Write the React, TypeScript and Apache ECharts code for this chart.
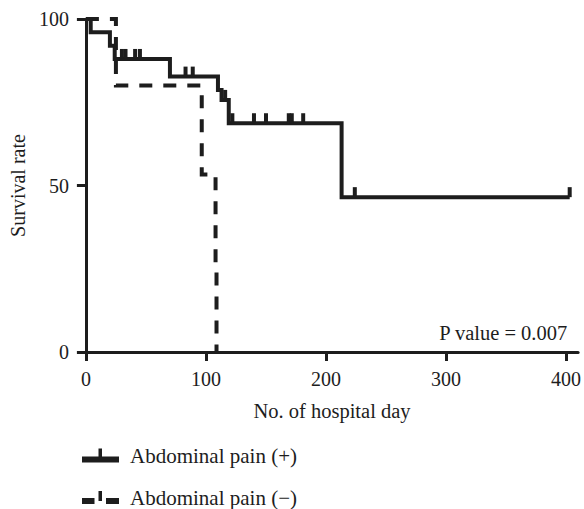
import { useEffect, useRef } from "react";
import * as echarts from "echarts";

const xTicks = [0, 100, 200, 300, 400];
const yTicks = [0, 50, 100];
const seriesNames = ["Abdominal pain (+)", "Abdominal pain (−)"];
const xAxisName = "No. of hospital day";
const yAxisName = "Survival rate";
const pValueText = "P value = 0.007";

// Kaplan–Meier steps: [day, survival %]
const painPosSteps = [
  [0, 100], [4, 96], [20, 92], [24, 88], [70, 82.7], [110, 78.7], [113, 75.7],
  [119, 68.7], [213, 46.5], [403, 46.5],
];
const painPosCensored = [
  [30, 88], [33, 88], [41, 88], [45, 88], [83, 82.7], [89, 82.7], [116, 75.7],
  [122, 68.7], [140, 68.7], [150, 68.7], [169, 68.7], [171.5, 68.7], [181, 68.7],
  [224, 46.5], [403, 46.5],
];
const painNegSteps = [
  [0, 100], [25, 80], [96.5, 53.3], [108, 26.7], [108.8, 0],
];

const INK = "#1d1d1d";
const FONT = "Liberation Serif";

const legendIcons = [
  "path://M0 8H37V14H0Z M16.5 0H20V8H16.5Z",
  "path://M0 7H12.5V13H0Z M16.5 0H20V10H16.5Z M24 7H37V13H24Z",
];
const legendTops = [445, 487];

export default function App() {
  const ref = useRef<HTMLDivElement>(null);
  useEffect(() => {
    if (!ref.current) return;
    const chart = echarts.init(ref.current, undefined, { renderer: "svg" });
    chart.setOption({
      animation: false,
      backgroundColor: "#ffffff",
      grid: { left: 82, right: 4, top: 19, bottom: 157, containLabel: false },
      legend: seriesNames.map((n, i) => ({
        orient: "vertical",
        left: 82,
        top: legendTops[i],
        padding: 0,
        itemWidth: 37,
        itemHeight: 14,
        selectedMode: false,
        data: [{ name: n, icon: legendIcons[i] }],
        itemStyle: { borderWidth: 0 },
        textStyle: { fontFamily: FONT, fontSize: 21, color: INK, padding: [4, 0, 0, 6] },
      })),
      xAxis: {
        type: "value",
        min: 0,
        max: 410,
        interval: 100,
        name: xAxisName,
        nameLocation: "middle",
        nameGap: 48,
        nameTextStyle: { fontFamily: FONT, fontSize: 20.5, color: INK },
        axisLine: { show: true, onZero: false, lineStyle: { color: INK, width: 3 } },
        axisTick: { show: true, length: 9, customValues: xTicks, lineStyle: { color: INK, width: 3 } },
        axisLabel: { customValues: xTicks, margin: 17, fontFamily: FONT, fontSize: 20, color: INK },
        splitLine: { show: false },
      },
      yAxis: {
        type: "value",
        min: 0,
        max: 100,
        interval: 50,
        name: yAxisName,
        nameLocation: "middle",
        nameGap: 56,
        nameTextStyle: { fontFamily: FONT, fontSize: 20, color: INK },
        axisLine: { show: true, onZero: false, lineStyle: { color: INK, width: 3 } },
        axisTick: { show: true, length: 9, customValues: yTicks, lineStyle: { color: INK, width: 3 } },
        axisLabel: { customValues: yTicks, margin: 17, fontFamily: FONT, fontSize: 20, color: INK },
        splitLine: { show: false },
      },
      graphic: [
        {
          type: "text",
          right: 16,
          top: 322,
          style: { text: pValueText, fontFamily: FONT, fontSize: 20.5, fill: INK },
        },
      ],
      series: [
        {
          name: seriesNames[0],
          type: "line",
          step: "end",
          data: painPosSteps,
          showSymbol: false,
          symbol: "none",
          color: INK,
          lineStyle: { color: INK, width: 4, cap: "butt", join: "miter" },
          z: 3,
        },
        {
          name: seriesNames[1],
          type: "line",
          step: "end",
          data: painNegSteps,
          showSymbol: false,
          symbol: "none",
          color: INK,
          lineStyle: { color: INK, width: 4, type: [13, 11], cap: "butt", join: "miter" },
          z: 2,
        },
        {
          name: "censored (+)",
          type: "scatter",
          data: painPosCensored,
          symbol: "rect",
          symbolSize: [4, 10],
          symbolOffset: [0, -5],
          itemStyle: { color: INK, opacity: 1 },
          z: 4,
        },
      ],
    });
    return () => chart.dispose();
  }, []);
  return (
    <div
      ref={ref}
      style={{ position: "fixed", left: 0, top: 0, width: 584, height: 509, background: "#fff" }}
    />
  );
}
